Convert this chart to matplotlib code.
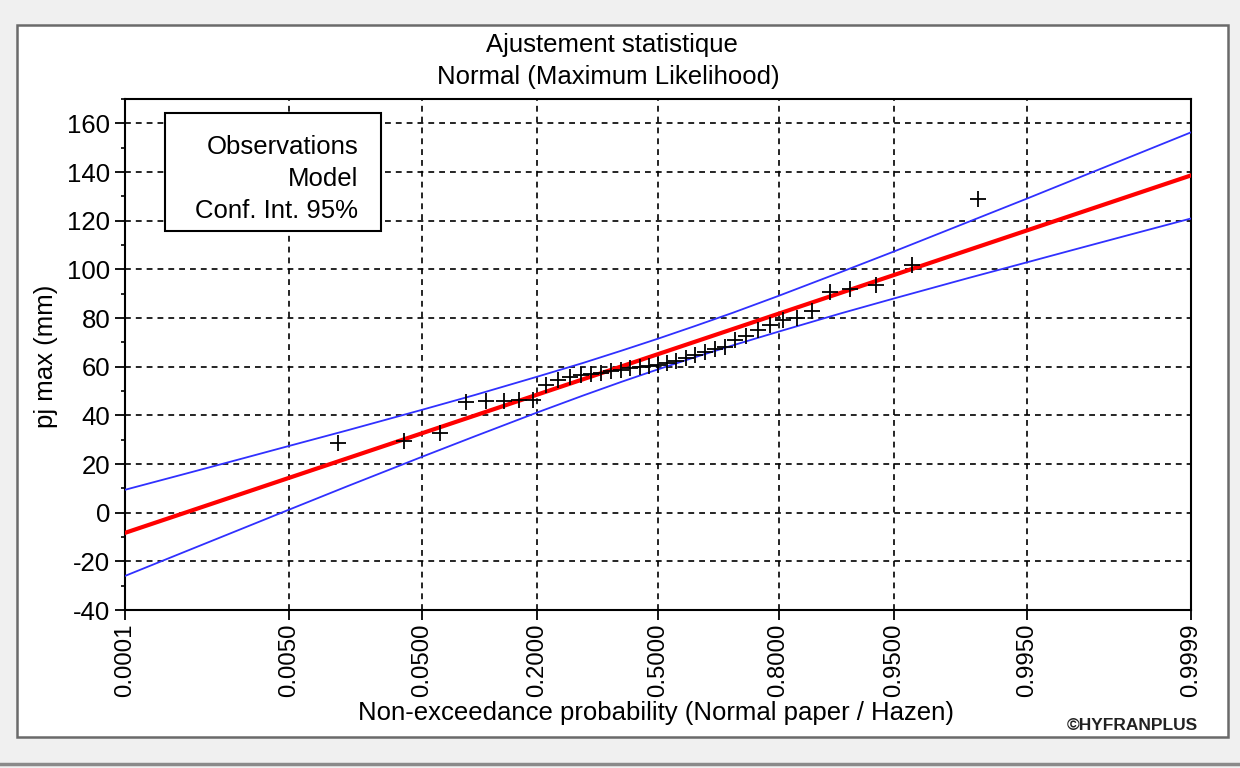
import math
import numpy as np
import matplotlib
matplotlib.use('Agg')
import matplotlib.pyplot as plt
from matplotlib.patches import Rectangle
from matplotlib.lines import Line2D
from matplotlib.ticker import FixedLocator, NullLocator, MultipleLocator

plt.rcParams['font.family'] = ['Liberation Sans', 'DejaVu Sans']
plt.rcParams['axes.unicode_minus'] = False

# observations (sorted, mm)
obs_values = [28.5, 29.3, 32.8, 45.6, 45.8, 46.0, 46.2, 46.5,
              52.5, 54.6, 55.8, 56.5, 57.0, 57.6, 58.2, 58.8, 59.3, 59.8, 60.2, 60.6,
              61.4, 62.2, 63.5, 64.6, 66.0, 67.2, 68.2, 71.0, 72.8, 75.0,
              77.2, 79.0, 80.2, 82.8, 90.8, 92.1, 93.6, 101.8, 128.8]

# fitted model (straight line on normal paper)
model_prob = [0.0001, 0.9999]
model_values = [-8.3, 138.6]

# 95% confidence band
ci_prob = [0.0001, 0.0005, 0.002, 0.005, 0.015, 0.05, 0.1, 0.2, 0.3, 0.4, 0.5,
           0.6, 0.7, 0.8, 0.9, 0.95, 0.985, 0.995, 0.998, 0.9995, 0.9999]
ci_upper = [9.4, 16.1, 22.6, 27.4, 33.8, 42.3, 48.3, 55.9, 61.5, 66.6, 71.5,
            76.6, 82.2, 89.1, 99.0, 107.3, 119.6, 129.1, 136.3, 146.1, 156.3]
ci_lower = [-26.0, -15.8, -6.0, 1.2, 10.8, 23.0, 31.3, 41.2, 48.1, 53.8, 58.9,
            63.8, 68.8, 74.4, 82.0, 88.0, 96.5, 102.9, 107.7, 114.2, 120.9]

xtick_prob = [0.0001, 0.005, 0.05, 0.2, 0.5, 0.8, 0.95, 0.995, 0.9999]
xtick_labels = ['%.4f' % p for p in xtick_prob]
ytick_values = list(range(-40, 161, 20))

FS = 18.5


def norm_ppf(p):
    p = np.clip(np.asarray(p, dtype=float), 1e-12, 1 - 1e-12)
    a = [-3.969683028665376e+01, 2.209460984245205e+02, -2.759285104469687e+02,
         1.383577518672690e+02, -3.066479806614716e+01, 2.506628277459239e+00]
    b = [-5.447609879822406e+01, 1.615858368580409e+02, -1.556989798598866e+02,
         6.680131188771972e+01, -1.328068155288572e+01]
    c = [-7.784894002430293e-03, -3.223964580411365e-01, -2.400758277161838e+00,
         -2.549732539343734e+00, 4.374664141464968e+00, 2.938163982698783e+00]
    d = [7.784695709041462e-03, 3.224671290700398e-01, 2.445134137142996e+00,
         3.754408661907416e+00]
    plow = 0.02425

    def tail(q):
        num = ((((c[0]*q + c[1])*q + c[2])*q + c[3])*q + c[4])*q + c[5]
        den = (((d[0]*q + d[1])*q + d[2])*q + d[3])*q + 1
        return num / den

    q = p - 0.5
    r = q * q
    central = (((((a[0]*r + a[1])*r + a[2])*r + a[3])*r + a[4])*r + a[5])*q / \
              (((((b[0]*r + b[1])*r + b[2])*r + b[3])*r + b[4])*r + 1)
    low = tail(np.sqrt(-2 * np.log(p)))
    high = -tail(np.sqrt(-2 * np.log(1 - p)))
    return np.where(p < plow, low, np.where(p > 1 - plow, high, central))


_erf = np.vectorize(math.erf)


def norm_cdf(z):
    z = np.asarray(z, dtype=float)
    return 0.5 * (1 + _erf(z / math.sqrt(2)))


n = len(obs_values)
obs_prob = (np.arange(1, n + 1) - 0.5) / n   # Hazen

fig = plt.figure(figsize=(12.4, 7.68), dpi=100, facecolor='#f0f0f0')

# window panel
fig.patches.append(Rectangle((17/1240, 1 - 737/768), (1228-17)/1240, (737-25)/768,
                             transform=fig.transFigure, facecolor='white',
                             edgecolor='#6a6a6a', lw=1.8, zorder=-5))
fig.lines.append(Line2D([0, 1], [1 - 764/768, 1 - 764/768], transform=fig.transFigure,
                        color='#8a8a8a', lw=2.5, zorder=-5))

ax = fig.add_axes([125/1240, 1 - 610/768, (1191-125)/1240, (610-99)/768])
ax.set_xscale('function', functions=(norm_ppf, norm_cdf))

ax.plot(ci_prob, ci_upper, color='#3030ff', lw=1.3, zorder=3)
ax.plot(ci_prob, ci_lower, color='#3030ff', lw=1.3, zorder=3)
ax.plot(model_prob, model_values, color='#ff0000', lw=3.0, zorder=4)
ax.plot(obs_prob, obs_values, ls='none', marker='+', color='black',
        markersize=11, markeredgewidth=1.3, zorder=5)

ax.set_xlim(0.0001, 0.9999)
ax.set_ylim(-40, 170)
ax.xaxis.set_major_locator(FixedLocator(xtick_prob))
ax.xaxis.set_minor_locator(NullLocator())
ax.set_xticklabels(xtick_labels, rotation=90)
ax.yaxis.set_major_locator(FixedLocator(ytick_values))
ax.yaxis.set_minor_locator(MultipleLocator(10))

ax.grid(True, which='major', color='black', ls=(0, (3.5, 3)), lw=1.2)
ax.tick_params(axis='both', which='major', length=7, width=1.3, color='black')
ax.tick_params(axis='y', which='major', labelsize=FS)
ax.tick_params(axis='x', which='major', labelsize=17.3, pad=3)
ax.tick_params(axis='y', which='minor', length=3, width=1.2)
for s in ax.spines.values():
    s.set_linewidth(1.5)
    s.set_color('black')

# legend box (text only)
ax.add_patch(Rectangle((40/1066, (610-231)/511), (381-165)/1066, (231-113)/511,
                       transform=ax.transAxes, facecolor='white', edgecolor='black',
                       lw=1.5, zorder=6))
for label, ypix in zip(['Observations', 'Model', 'Conf. Int. 95%'], [147, 179, 211]):
    ax.text(233/1066, (610-ypix)/511, label, transform=ax.transAxes,
            ha='right', va='center', fontsize=FS, zorder=7)

fig.text(612/1240, 1 - 45/768, 'Ajustement statistique', ha='center', va='center', fontsize=FS)
fig.text(608/1240, 1 - 77/768, 'Normal (Maximum Likelihood)', ha='center', va='center', fontsize=FS)
fig.text(656/1240, 1 - 713/768, 'Non-exceedance probability (Normal paper / Hazen)',
         ha='center', va='center', fontsize=FS)
fig.text(46/1240, 1 - 356/768, 'pj max (mm)', ha='center', va='center',
         rotation=90, fontsize=FS)
fig.text(1198/1240, 1 - 726/768, '\u00a9HYFRANPLUS', ha='right', va='center',
         fontsize=12.5, fontweight='bold', color='#222222')

fig.savefig('out.png', dpi=100, facecolor=fig.get_facecolor())
